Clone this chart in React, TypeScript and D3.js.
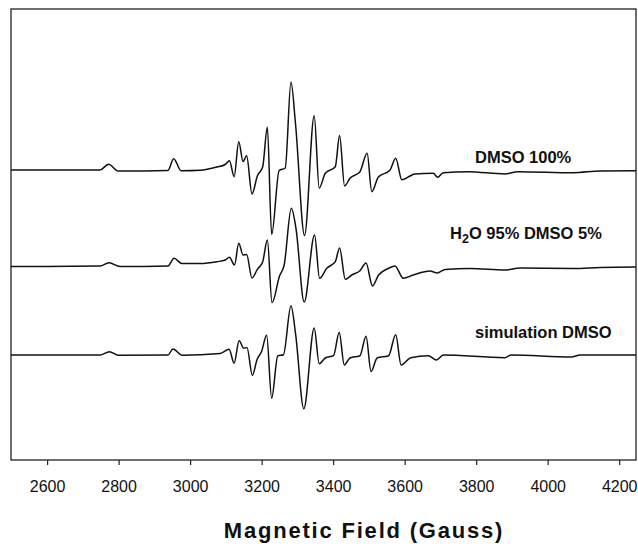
import React from 'react';
import * as d3 from 'd3';

// EPR spectra — three stacked traces.
// Field in Gauss, intensity in arbitrary units (offset from each trace's baseline).

const fieldTicks = [2600, 2800, 3000, 3200, 3400, 3600, 3800, 4000, 4200];

const dmsoField = [
  2499, 2748, 2772, 2799, 2938, 2954, 2975, 3028, 3075, 3098, 3110, 3123, 3136, 3148, 3158,
  3173, 3188, 3203, 3216, 3228, 3249, 3266, 3282, 3295, 3320, 3347, 3361, 3378, 3406, 3418,
  3432, 3447, 3475, 3495, 3508, 3526, 3559, 3575, 3592, 3615, 3628, 3680, 3692, 3708, 3778,
  3880, 3917, 4071, 4147, 4247,
];
const dmsoValue = [
  0, 0, 5.7, -1, -0.5, 11.3, -0.8, -0.3, 3, 5.5, 9.3, -6.7, 28.3, 8.5, 14.3,
  -24, -6, 3.3, 42.7, -64.5, -0.5, 2, 88, 45, -65.5, 54.3, -18, -3.3, 3.3, 34.5,
  -16, -8.3, -1.7, 16.7, -21.7, -7.3, 0, 11.7, -9.7, -6, -4, -3.3, -7.3, -2.7, -1.7,
  -4, -1.7, -2.7, -1, -0.7,
];

const waterField = [
  2499, 2748, 2773, 2804, 2938, 2955, 2977, 3028, 3075, 3098, 3110, 3124, 3136, 3148, 3158,
  3173, 3188, 3203, 3216, 3229, 3250, 3263, 3283, 3296, 3319, 3348, 3362, 3382, 3406, 3418,
  3434, 3452, 3475, 3492, 3510, 3527, 3555, 3573, 3596, 3624, 3671, 3691, 3713, 3783, 3881,
  3923, 4071, 4147, 4247,
];
const waterValue = [
  0.5, 1, 4.3, 0.5, 1, 8.7, 3.5, 3.5, 5.3, 7, 9.7, 2, 23.7, 12, 12.5,
  -11, -2.3, 5.3, 27, -35.7, -9, 2, 58.7, 38.7, -35, 32, -11.3, -1.3, 5.3, 19,
  -12.3, -8, -3.7, 4, -19, -8, -1.3, 1, -11.3, -8, -4, -6, -2.5, -1.5, -3,
  -1, -1.5, -0.5, 0,
];

const simField = [
  2499, 2748, 2774, 2799, 2938, 2952, 2977, 3084, 3109, 3123, 3137, 3150, 3159, 3174, 3187,
  3200, 3214, 3228, 3245, 3261, 3282, 3295, 3318, 3347, 3361, 3378, 3401, 3417, 3431, 3447,
  3475, 3492, 3506, 3523, 3555, 3575, 3590, 3617, 3666, 3689, 3708, 3880, 3898, 4066, 4091,
  4247,
];
const simValue = [
  0, 0, 3.3, -0.2, 0, 6, -0.2, 1.6, 5.8, -8.2, 14.3, 6.8, 7.5, -20.4, -4.7,
  3.8, 19.8, -43.2, -1, 0.3, 49.3, 20.8, -53.7, 27.1, -8.7, -3, -0.7, 22.5, -9.9, -3,
  -0.7, 18.8, -16.5, -3, -0.7, 20.3, -10, -2.7, -0.7, -5, 0, -2.7, 0, -2, 0,
  0,
];

const traceOffsets = [290, 193, 105];

export default function App() {
  const width = 638;
  const height = 544;
  const left = 11, right = 636, top = 9, bottom = 460;

  const x = d3.scaleLinear().domain([2499, 4247]).range([left, right]);
  const y = d3.scaleLinear().domain([0, 451]).range([bottom, top]);

  const traces = [
    { f: dmsoField, v: dmsoValue, off: traceOffsets[0] },
    { f: waterField, v: waterValue, off: traceOffsets[1] },
    { f: simField, v: simValue, off: traceOffsets[2] },
  ];

  const axisRef = React.useRef<SVGGElement>(null);
  React.useEffect(() => {
    if (!axisRef.current) return;
    const g = d3.select(axisRef.current);
    g.selectAll('*').remove();
    g.call(d3.axisBottom(x).tickValues(fieldTicks).tickSize(5).tickSizeOuter(0).tickPadding(16)
      .tickFormat((d) => String(d)));
    g.select('.domain').remove();
    g.selectAll('line').attr('stroke', '#222').attr('stroke-width', 1.2);
    g.selectAll('text').attr('font-size', 16).attr('fill', '#111')
      .attr('font-family', 'Arial, "Liberation Sans", sans-serif');
  }, []);

  const font = 'Arial, "Liberation Sans", sans-serif';

  return (
    <svg width={width} height={height} style={{ position: 'absolute', left: 0, top: 0, background: 'white' }}>
      <rect x={left} y={top} width={right - left} height={bottom - top}
        fill="none" stroke="#222" strokeWidth={1.3} />
      {traces.map((t, k) => {
        const pts: [number, number][] = t.f.map((f, i) => [f, t.v[i]]);
        const line = d3.line<[number, number]>()
          .x((d) => x(d[0]))
          .y((d) => y(d[1] + t.off))
          .curve(d3.curveMonotoneX);
        return <path key={k} d={line(pts) ?? ''} fill="none" stroke="#111" strokeWidth={1.5} />;
      })}
      <g ref={axisRef} transform={`translate(0,${bottom})`} />
      <g fontFamily={font} fontWeight="bold" fontSize={16.5} fill="#111">
        <text x={475} y={163}>DMSO 100%</text>
        <text x={450} y={239}>
          H<tspan fontSize={12.5} dy={4}>2</tspan><tspan dy={-4}>O 95% DMSO 5%</tspan>
        </text>
        <text x={475} y={338}>simulation DMSO</text>
      </g>
      <text x={364} y={538} textAnchor="middle" fontFamily={font} fontWeight="bold" fontSize={22}
        letterSpacing={1.8} fill="#111">Magnetic Field (Gauss)</text>
    </svg>
  );
}
